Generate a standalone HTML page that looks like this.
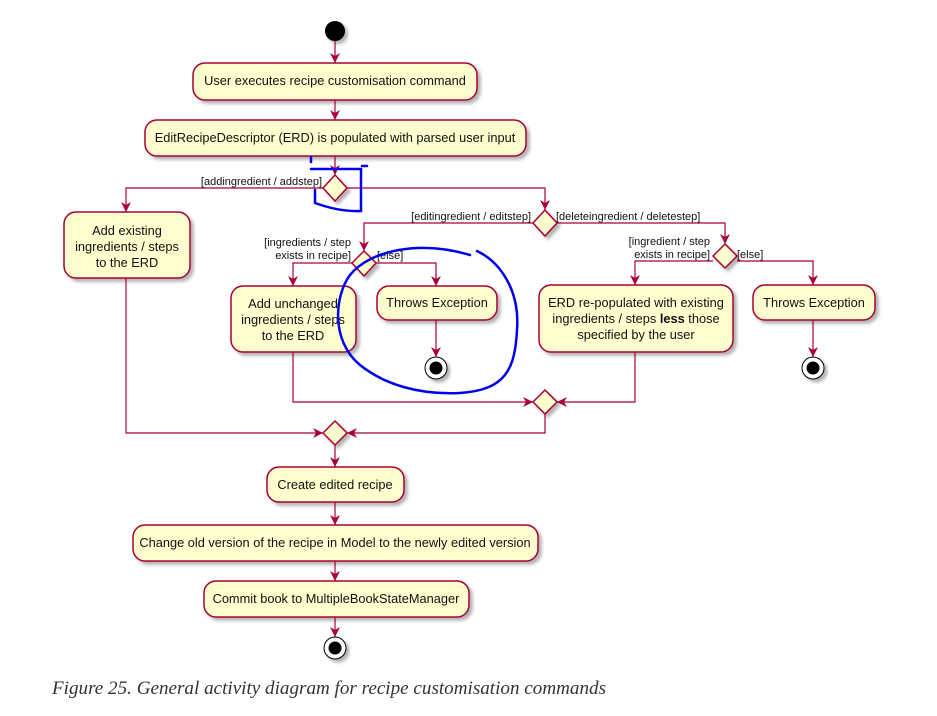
<!DOCTYPE html>
<html><head><meta charset="utf-8"><style>
body{margin:0;background:#fff;width:937px;height:716px;overflow:hidden}
svg{display:block}
text{font-family:"Liberation Sans",sans-serif;font-size:12.8px;fill:#111}
.b{fill:#FEFECE;stroke:#A80036;stroke-width:1.5;filter:url(#sh)}
.l{fill:none;stroke:#A80036;stroke-width:1.2}
.a{fill:#A80036}
.lb{font-size:11px}
</style></head><body>
<svg width="937" height="716" viewBox="0 0 937 716">
<defs>
<filter id="sh" x="-20%" y="-20%" width="140%" height="160%"><feDropShadow dx="3" dy="3" stdDeviation="1.5" flood-color="#000" flood-opacity="0.3"/></filter>
<marker id="ar" viewBox="0 0 10 10" refX="10" refY="5" markerWidth="10" markerHeight="10" orient="auto" markerUnits="userSpaceOnUse"><path d="M0,0 L10,5 L0,10 L3,5 Z" class="a"/></marker>
</defs>
<circle cx="335" cy="31" r="10" fill="#000" filter="url(#sh)"/>
<path class="l" d="M335 41 V63" marker-end="url(#ar)"/>
<rect class="b" x="193" y="63" width="284" height="37" rx="12"/>
<text x="335" y="85" text-anchor="middle">User executes recipe customisation command</text>
<path class="l" d="M335 100 V120" marker-end="url(#ar)"/>
<rect class="b" x="145" y="120" width="381" height="36" rx="12"/>
<text x="335" y="142" text-anchor="middle">EditRecipeDescriptor (ERD) is populated with parsed user input</text>
<path class="l" d="M335 156 V175" marker-end="url(#ar)"/>
<path class="b" d="M335 175 L347 188 L335 201 L323 188 Z"/>
<text class="lb" x="322" y="185" text-anchor="end">[addingredient / addstep]</text>
<path class="l" d="M323 188 H126 V212" marker-end="url(#ar)"/>
<path class="l" d="M347 188 H545 V210" marker-end="url(#ar)"/>
<rect class="b" x="64" y="212" width="126" height="66" rx="12"/>
<text x="127" y="235" text-anchor="middle">Add existing</text>
<text x="127" y="251" text-anchor="middle">ingredients / steps</text>
<text x="127" y="267" text-anchor="middle">to the ERD</text>
<path class="l" d="M126 278 V433 H323" marker-end="url(#ar)"/>
<path class="b" d="M545 210 L557 223 L545 236 L533 223 Z"/>
<text class="lb" x="531" y="220" text-anchor="end">[editingredient / editstep]</text>
<text class="lb" x="556" y="220">[deleteingredient / deletestep]</text>
<path class="l" d="M533 223 H364 V251" marker-end="url(#ar)"/>
<path class="l" d="M557 223 H725 V244" marker-end="url(#ar)"/>
<path class="b" d="M364 251 L376 263 L364 276 L352 263 Z"/>
<text class="lb" x="351" y="246" text-anchor="end">[ingredients / step</text>
<text class="lb" x="351" y="259" text-anchor="end">exists in recipe]</text>
<text class="lb" x="377" y="259">[else]</text>
<path class="l" d="M352 263 H293 V286" marker-end="url(#ar)"/>
<path class="l" d="M376 263 H436 V286" marker-end="url(#ar)"/>
<rect class="b" x="231" y="286" width="125" height="66" rx="12"/>
<text x="293" y="308" text-anchor="middle">Add unchanged</text>
<text x="293" y="324" text-anchor="middle">ingredients / steps</text>
<text x="293" y="340" text-anchor="middle">to the ERD</text>
<rect class="b" x="377" y="286" width="120" height="34" rx="12"/>
<text x="437" y="307" text-anchor="middle">Throws Exception</text>
<path class="l" d="M436 320 V357" marker-end="url(#ar)"/>
<circle cx="436" cy="368" r="11" fill="#fff" stroke="#000" stroke-width="1" filter="url(#sh)"/>
<circle cx="436" cy="368" r="6.5" fill="#000"/>
<path class="b" d="M725 244 L737 256 L725 268 L713 256 Z"/>
<text class="lb" x="710" y="245" text-anchor="end">[ingredient / step</text>
<text class="lb" x="710" y="258" text-anchor="end">exists in recipe]</text>
<text class="lb" x="737" y="258">[else]</text>
<path class="l" d="M713 261 H635 V285" marker-end="url(#ar)"/>
<path class="l" d="M737 261 H813 V285" marker-end="url(#ar)"/>
<rect class="b" x="539" y="285" width="194" height="67" rx="12"/>
<text x="636" y="307" text-anchor="middle">ERD re-populated with existing</text>
<text x="636" y="323" text-anchor="middle">ingredients / steps <tspan font-weight="bold">less</tspan> those</text>
<text x="636" y="339" text-anchor="middle">specified by the user</text>
<rect class="b" x="753" y="285" width="122" height="35" rx="12"/>
<text x="814" y="307" text-anchor="middle">Throws Exception</text>
<path class="l" d="M813 320 V357" marker-end="url(#ar)"/>
<circle cx="813" cy="368" r="11" fill="#fff" stroke="#000" stroke-width="1" filter="url(#sh)"/>
<circle cx="813" cy="368" r="6.5" fill="#000"/>
<path class="l" d="M293 352 V402 H533" marker-end="url(#ar)"/>
<path class="l" d="M635 352 V402 H557" marker-end="url(#ar)"/>
<path class="b" d="M545 390 L557 402 L545 414 L533 402 Z"/>
<path class="l" d="M545 414 V433 H347" marker-end="url(#ar)"/>
<path class="b" d="M335 421 L347 433 L335 445 L323 433 Z"/>
<path class="l" d="M335 445 V467" marker-end="url(#ar)"/>
<rect class="b" x="267" y="467" width="137" height="35" rx="12"/>
<text x="335" y="489" text-anchor="middle">Create edited recipe</text>
<path class="l" d="M335 502 V525" marker-end="url(#ar)"/>
<rect class="b" x="133" y="525" width="405" height="36" rx="12"/>
<text x="335" y="547" text-anchor="middle">Change old version of the recipe in Model to the newly edited version</text>
<path class="l" d="M335 561 V581" marker-end="url(#ar)"/>
<rect class="b" x="204" y="581" width="265" height="36" rx="12"/>
<text x="336" y="603" text-anchor="middle">Commit book to MultipleBookStateManager</text>
<path class="l" d="M335 617 V637" marker-end="url(#ar)"/>
<circle cx="335" cy="648" r="11" fill="#fff" stroke="#000" stroke-width="1" filter="url(#sh)"/>
<circle cx="335" cy="648" r="6.5" fill="#000"/>
<g fill="none" stroke="#0000ee" stroke-width="2.5" stroke-linecap="round">
<path d="M311 157 V162"/>
<path d="M311 169 H361"/>
<path d="M362 166 H367"/>
<path d="M361 169 V211 Q340 212 315 203 V190"/>
<path d="M477 251 C500 262 520 290 517 330 C515 370 505 390 460 393 C420 395 385 385 360 365 C330 340 335 295 350 275 C370 250 420 240 470 255"/>
</g>
<text x="52" y="694" textLength="554" lengthAdjust="spacingAndGlyphs" style="font-family:'Liberation Serif',serif;font-style:italic;font-size:18.5px;fill:#333">Figure 25. General activity diagram for recipe customisation commands</text>
</svg>
</body></html>
